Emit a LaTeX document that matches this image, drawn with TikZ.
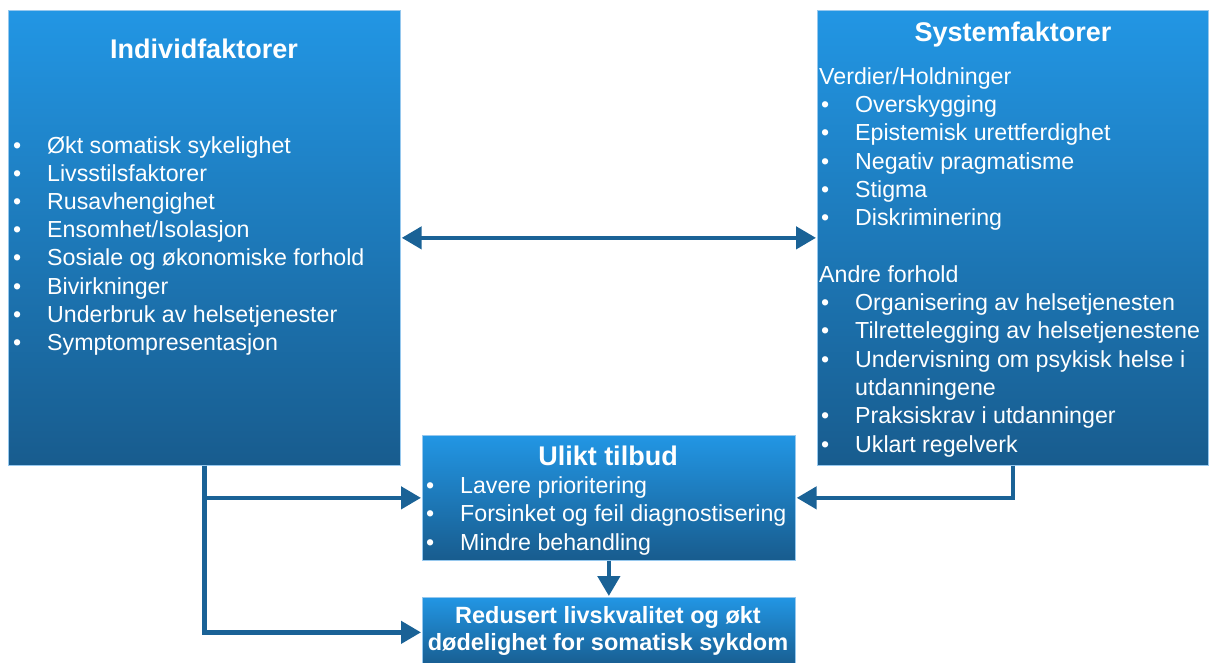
\documentclass[tikz,border=0pt]{standalone}
\usepackage{fontspec}
\setmainfont{Liberation Sans}
\usetikzlibrary{arrows.meta}
\definecolor{btop}{RGB}{34,150,228}
\definecolor{bbot}{RGB}{24,92,142}
\definecolor{arr}{RGB}{26,98,150}
\definecolor{bedge}{RGB}{150,200,238}
\newcommand{\bul}[1]{\makebox[34pt][l]{•}#1}
\tikzset{
  box/.style={rectangle, top color=btop, bottom color=bbot, draw=bedge, line width=0.7pt, inner sep=0pt, anchor=north west},
  conn/.style={draw=arr, line width=4.5pt, -{Triangle[length=20pt,width=22pt]}, shorten >=1pt},
  dconn/.style={draw=arr, line width=4.5pt, {Triangle[length=20pt,width=22pt]}-{Triangle[length=20pt,width=22pt]}, shorten >=1pt, shorten <=1pt},
  ttl/.style={text=white, font=\fontsize{27}{32}\selectfont\bfseries, inner sep=0pt},
  itm/.style={text=white, font=\fontsize{23.2}{28}\selectfont, anchor=mid west, inner sep=0pt},
  res/.style={text=white, font=\fontsize{23.5}{27}\selectfont\bfseries, align=center, inner sep=0pt},
}
\begin{document}
\begin{tikzpicture}[x=1pt,y=-1pt]
\useasboundingbox (0,0) rectangle (1210,662);
% boxes
\node[box, minimum width=392pt, minimum height=455pt] (ind) at (8,10) {};
\node[box, minimum width=391pt, minimum height=455pt] (sys) at (817,10) {};
\node[box, minimum width=373pt, minimum height=125pt] (ul) at (422,435) {};
\node[box, minimum width=373pt, minimum height=70pt] (red) at (422,597) {};
% Individfaktorer
\node[ttl] (indT) at (204,49) {Individfaktorer};
\node[itm] (i1) at (13,150.5) {\bul{Økt somatisk sykelighet}};
\node[itm] (i2) at (13,178.7) {\bul{Livsstilsfaktorer}};
\node[itm] (i3) at (13,206.9) {\bul{Rusavhengighet}};
\node[itm] (i4) at (13,235.1) {\bul{Ensomhet/Isolasjon}};
\node[itm] (i5) at (13,263.3) {\bul{Sosiale og økonomiske forhold}};
\node[itm] (i6) at (13,291.5) {\bul{Bivirkninger}};
\node[itm] (i7) at (13,319.7) {\bul{Underbruk av helsetjenester}};
\node[itm] (i8) at (13,347.9) {\bul{Symptompresentasjon}};
% Systemfaktorer
\node[ttl] (sysT) at (1013,35) {Systemfaktorer};
\node[itm] (s0) at (819,81.5) {Verdier/Holdninger};
\node[itm] (s1) at (821,109.8) {\bul{Overskygging}};
\node[itm] (s2) at (821,138.1) {\bul{Epistemisk urettferdighet}};
\node[itm] (s3) at (821,166.4) {\bul{Negativ pragmatisme}};
\node[itm] (s4) at (821,194.7) {\bul{Stigma}};
\node[itm] (s5) at (821,223) {\bul{Diskriminering}};
\node[itm] (s6) at (819,279.6) {Andre forhold};
\node[itm] (s7) at (821,307.9) {\bul{Organisering av helsetjenesten}};
\node[itm] (s8) at (821,336.2) {\bul{Tilrettelegging av helsetjenestene}};
\node[itm] (s9) at (821,364.5) {\bul{Undervisning om psykisk helse i}};
\node[itm] (s10) at (855,392.8) {utdanningene};
\node[itm] (s11) at (821,421.1) {\bul{Praksiskrav i utdanninger}};
\node[itm] (s12) at (821,449.4) {\bul{Uklart regelverk}};
% Ulikt tilbud
\node[ttl] (ulT) at (608,456) {Ulikt tilbud};
\node[itm] (u1) at (426,490.5) {\bul{Lavere prioritering}};
\node[itm] (u2) at (426,519) {\bul{Forsinket og feil diagnostisering}};
\node[itm] (u3) at (426,547.5) {\bul{Mindre behandling}};
% Result
\node[res] (redT) at (608,630.5) {Redusert livskvalitet og økt\\dødelighet for somatisk sykdom};
% connectors
\draw[dconn] (ind.east) -- (sys.west);
\draw[conn] (ind.south) |- (ul.west);
\draw[conn] (ind.south) |- (red.west);
\draw[conn] (sys.south) |- (ul.east);
\draw[conn] (ul.south) -- (red.north);
\end{tikzpicture}
\end{document}
